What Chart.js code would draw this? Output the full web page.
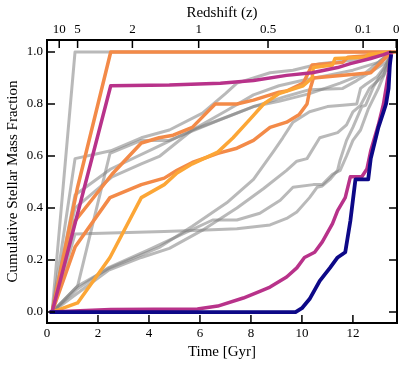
<!DOCTYPE html>
<html>
<head>
<meta charset="utf-8">
<script src="https://cdn.jsdelivr.net/npm/chart.js@4.4.1/dist/chart.umd.min.js"></script>
<style>
  html, body { margin: 0; padding: 0; background: #fff; }
</style>
</head>
<body>
<canvas id="sfhChart" width="407" height="368"></canvas>
<script>
// axis ticks
var timeTicks = [0, 2, 4, 6, 8, 10, 12];
var fracTicks = [0, 0.2, 0.4, 0.6, 0.8, 1.0];
var zLabels = ['10', '5', '2', '1', '0.5', '0.1', '0'];
var zTimes = [0.48, 1.2, 3.35, 5.95, 8.67, 12.4, 13.7];

// cumulative SFHs, [time Gyr, fraction]
var grayA = [[0.2,0],[1.1,1.0],[13.7,1.0]];
var grayB = [[0.2,0],[1.1,0.59],[2.5,0.62],[3.7,0.67],[4.8,0.70],[6.1,0.765],[7.0,0.84],[7.45,0.88],[8.75,0.92],[9.65,0.93],[10.7,0.955],[12.15,0.97],[13.5,1.0]];
var grayC = [[0.2,0],[1.2,0.10],[2.47,0.61],[3.7,0.66],[4.8,0.66],[6.8,0.74],[8.1,0.79],[9.4,0.83],[10.3,0.855],[11.6,0.86],[12.15,0.89],[12.65,0.92],[13.3,0.96],[13.55,1.0]];
var grayD = [[0.2,0],[1.1,0.40],[2.55,0.52],[3.7,0.57],[4.43,0.60],[5.7,0.70],[7.05,0.775],[8.1,0.835],[9.1,0.87],[10.0,0.89],[11.0,0.91],[12.0,0.93],[13.0,0.96],[13.5,1.0]];
var grayE = [[0.2,0],[1.1,0.45],[2.5,0.55],[4.43,0.64],[5.7,0.70],[7.05,0.75],[8.1,0.79],[9.1,0.81],[10.3,0.84],[11.5,0.88],[12.5,0.92],[13.5,1.0]];
var grayF = [[0.2,0],[1.1,0.30],[4.6,0.31],[6.0,0.315],[7.45,0.32],[8.75,0.335],[9.4,0.36],[9.8,0.385],[10.3,0.44],[10.6,0.48],[10.8,0.485],[11.1,0.51],[11.4,0.545],[11.5,0.585],[11.75,0.66],[12.0,0.71],[12.35,0.79],[12.5,0.795],[12.8,0.865],[13.2,0.93],[13.45,0.98],[13.55,1.0]];
var grayG = [[0.2,0],[1.2,0.10],[2.47,0.17],[3.7,0.22],[4.43,0.25],[5.7,0.33],[7.05,0.42],[8.1,0.51],[8.9,0.62],[9.25,0.67],[9.65,0.73],[10.3,0.77],[11.0,0.79],[11.6,0.795],[12.15,0.80],[12.3,0.86],[12.5,0.875],[12.95,0.905],[13.3,0.95],[13.55,1.0]];
var grayH = [[0.2,0],[2.4,0.16],[3.7,0.21],[4.8,0.245],[6.1,0.315],[7.45,0.40],[8.5,0.475],[9.4,0.545],[9.8,0.58],[10.2,0.59],[10.7,0.67],[11.4,0.69],[11.75,0.72],[12.0,0.77],[12.3,0.795],[12.65,0.86],[13.2,0.91],[13.55,1.0]];
var grayI = [[0.2,0],[1.2,0.09],[2.4,0.17],[4.0,0.24],[4.8,0.277],[6.5,0.354],[7.45,0.354],[8.35,0.38],[9.15,0.43],[9.65,0.48],[10.45,0.49],[10.8,0.49],[11.2,0.53],[11.5,0.545],[11.75,0.60],[12.0,0.66],[12.3,0.70],[12.6,0.78],[13.0,0.86],[13.3,0.93],[13.55,1.0]];

var orangeA = [[0.2,0],[1.2,0.48],[2.5,1.0],[13.7,1.0]];
var orangeB = [[0.2,0],[1.1,0.35],[2.55,0.53],[3.7,0.65],[4.4,0.67],[4.95,0.68],[5.7,0.71],[6.2,0.76],[6.6,0.80],[7.45,0.80],[8.1,0.815],[8.6,0.83],[9.1,0.845],[9.4,0.85],[10.05,0.88],[10.4,0.95],[11.6,0.96],[11.8,0.98],[13.2,0.99],[13.55,1.0]];
var orangeC = [[0.2,0],[1.1,0.25],[2.47,0.44],[3.7,0.49],[4.6,0.515],[5.1,0.545],[5.7,0.575],[6.7,0.61],[7.45,0.63],[8.1,0.66],[8.75,0.71],[9.4,0.73],[9.9,0.76],[10.2,0.80],[10.3,0.85],[10.45,0.90],[12.7,0.92],[13.5,1.0]];
var lightOrange = [[0.2,0],[1.2,0.035],[2.47,0.21],[3.7,0.44],[4.6,0.49],[5.1,0.535],[5.7,0.57],[6.7,0.615],[7.3,0.67],[7.95,0.74],[8.5,0.80],[9.1,0.84],[10.05,0.87],[10.4,0.90],[10.45,0.94],[11.2,0.95],[11.3,0.975],[12.5,0.98],[12.6,0.99],[13.5,1.0]];

var magentaA = [[0.2,0],[2.5,0.87],[4.8,0.873],[6.8,0.88],[8.1,0.89],[9.4,0.91],[10.4,0.92],[11.4,0.94],[11.9,0.955],[12.7,0.975],[13.2,0.99],[13.5,1.0]];
var magentaB = [[0.1,0],[2.5,0.01],[5.9,0.012],[6.7,0.023],[7.7,0.054],[8.35,0.08],[8.75,0.096],[9.4,0.135],[9.8,0.17],[10.1,0.21],[10.5,0.23],[10.8,0.27],[11.2,0.34],[11.4,0.39],[11.7,0.44],[11.9,0.52],[12.35,0.52],[12.55,0.55],[12.7,0.62],[13.0,0.72],[13.2,0.8],[13.4,0.92],[13.5,1.0]];
var navy = [[0.1,0],[9.75,0.0],[10.0,0.015],[10.3,0.05],[10.7,0.12],[11.1,0.17],[11.4,0.21],[11.7,0.23],[11.9,0.35],[12.1,0.51],[12.6,0.51],[12.7,0.59],[13.0,0.71],[13.2,0.77],[13.3,0.80],[13.4,0.86],[13.45,0.95],[13.5,0.99]];

var grayLines = [grayA, grayB, grayC, grayD, grayE, grayF, grayG, grayH, grayI];

function toPoints(arr) {
    return arr.map(function(p) { return { x: p[0], y: p[1] }; });
}

function line(arr, color, width, order) {
    return {
        data: toPoints(arr),
        borderColor: color,
        borderWidth: width,
        pointRadius: 0,
        fill: false,
        tension: 0,
        borderJoinStyle: 'round',
        order: order
    };
}

var datasets = [];
datasets.push(line(navy, '#0d0887', 3.8, 1));
datasets.push(line(magentaB, '#b8328a', 3.5, 2));
datasets.push(line(magentaA, '#b8328a', 3.5, 2));
datasets.push(line(lightOrange, '#fca636', 3.5, 3));
datasets.push(line(orangeC, '#f38a48', 3.5, 3));
datasets.push(line(orangeB, '#f38a48', 3.5, 3));
datasets.push(line(orangeA, '#f38a48', 3.5, 3));
grayLines.forEach(function(g) {
    datasets.push(line(g, 'rgba(128,128,128,0.55)', 3, 5));
});

// matplotlib style frame + inward ticks
var frameTicks = {
    id: 'frameTicks',
    afterDraw: function(chart) {
        var ctx = chart.ctx, a = chart.chartArea, s = chart.scales;
        ctx.save();
        ctx.strokeStyle = '#000';
        ctx.lineWidth = 1.5;
        ctx.beginPath();
        s.x.ticks.forEach(function(t) {
            var px = s.x.getPixelForValue(t.value);
            ctx.moveTo(px, a.bottom); ctx.lineTo(px, a.bottom - 8);
        });
        s.x2.ticks.forEach(function(t) {
            var px = s.x2.getPixelForValue(t.value);
            ctx.moveTo(px, a.top); ctx.lineTo(px, a.top + 8);
        });
        s.y.ticks.forEach(function(t) {
            var py = s.y.getPixelForValue(t.value);
            ctx.moveTo(a.left, py); ctx.lineTo(a.left + 8, py);
            ctx.moveTo(a.right, py); ctx.lineTo(a.right - 8, py);
        });
        ctx.stroke();
        ctx.lineWidth = 2;
        ctx.strokeRect(a.left, a.top, a.right - a.left, a.bottom - a.top);
        ctx.restore();
    }
};

var tickFont = { family: 'Liberation Serif', size: 13 };
var titleFont = { family: 'Liberation Serif', size: 15 };

var ctx = document.getElementById('sfhChart').getContext('2d');
var sfhChart = new Chart(ctx, {
    type: 'line',
    data: { datasets: datasets },
    options: {
        responsive: false,
        animation: false,
        devicePixelRatio: 1,
        layout: { padding: { top: 0, right: 10, bottom: 0, left: 0 } },
        plugins: { legend: { display: false }, tooltip: { enabled: false } },
        scales: {
            x: {
                type: 'linear',
                position: 'bottom',
                min: 0,
                max: 13.73,
                grid: { display: false, drawTicks: false },
                border: { display: false },
                afterBuildTicks: function(scale) {
                    scale.ticks = timeTicks.map(function(v) { return { value: v }; });
                },
                afterFit: function(scale) { scale.height = 45; },
                ticks: { font: tickFont, color: '#000', padding: 3, maxRotation: 0, autoSkip: false },
                title: { display: true, text: 'Time [Gyr]', font: titleFont, color: '#000', padding: { top: 0, bottom: 7 } }
            },
            x2: {
                type: 'linear',
                position: 'top',
                min: 0,
                max: 13.73,
                grid: { display: false, drawTicks: false },
                border: { display: false },
                afterBuildTicks: function(scale) {
                    scale.ticks = zTimes.map(function(v) { return { value: v }; });
                },
                afterFit: function(scale) { scale.height = 40; },
                ticks: {
                    font: tickFont, color: '#000', padding: 3, maxRotation: 0, autoSkip: false,
                    callback: function(value, index) { return zLabels[index]; }
                },
                title: { display: true, text: 'Redshift (z)', font: titleFont, color: '#000', padding: { top: 4, bottom: 0 } }
            },
            y: {
                type: 'linear',
                position: 'left',
                min: -0.042,
                max: 1.046,
                grid: { display: false, drawTicks: false },
                border: { display: false },
                afterBuildTicks: function(scale) {
                    scale.ticks = fracTicks.map(function(v) { return { value: v }; });
                },
                afterFit: function(scale) { scale.width = 47; },
                ticks: {
                    font: tickFont, color: '#000', padding: 4,
                    callback: function(value) { return value.toFixed(1); }
                },
                title: { display: true, text: 'Cumulative Stellar Mass Fraction', font: titleFont, color: '#000', padding: { top: 4, bottom: 0 } }
            }
        }
    },
    plugins: [frameTicks]
});
</script>
</body>
</html>
